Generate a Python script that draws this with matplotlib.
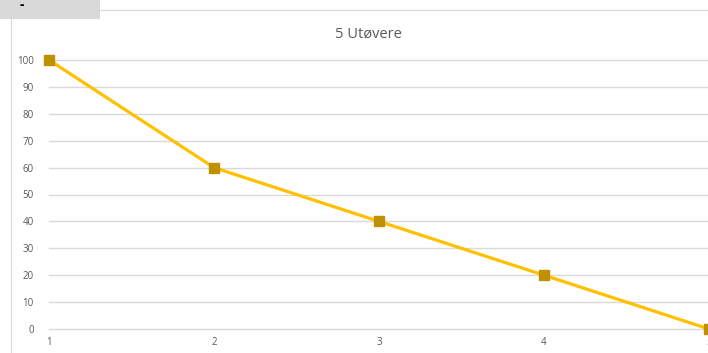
import matplotlib
matplotlib.use("Agg")
import matplotlib.pyplot as plt
from matplotlib.patches import Rectangle
from matplotlib.lines import Line2D

utovere = [1, 2, 3, 4, 5]
verdier = [100, 60, 40, 20, 0]
yticks = [0, 10, 20, 30, 40, 50, 60, 70, 80, 90, 100]
tittel = "5 Utøvere"

plt.rcParams['font.family'] = ['Open Sans', 'DejaVu Sans']

W, H = 708, 353
fig = plt.figure(figsize=(W / 100, H / 100), dpi=100)

# chart frame lines and the grey header box
fig.add_artist(Line2D([11 / W, 11 / W], [0, 1 - 10 / H], color='#d9d9d9', lw=0.9))
fig.add_artist(Line2D([100 / W, 1], [1 - 10 / H, 1 - 10 / H], color='#d9d9d9', lw=0.9))
fig.add_artist(Rectangle((0, 1 - 19 / H), 100 / W, 19 / H, color='#d9d9d9', lw=0))
fig.text(22 / W, 1 - 5 / H, "-", fontsize=10, color='black', ha='center', va='center',
         fontweight='bold')

ax = fig.add_axes([49 / W, 24 / H, 660 / W, 269 / H])
ax.plot(utovere, verdier, color='#FFC000', lw=2.3, marker='s', markersize=6.5,
        markerfacecolor='#BF9000', markeredgecolor='#BF9000', clip_on=False, zorder=3)

ax.set_xlim(1, 5)
ax.set_ylim(0, 100)
ax.set_xticks(utovere)
ax.set_yticks(yticks)
ax.grid(axis='y', color='#d9d9d9', lw=1)
for gl in ax.get_ygridlines():
    gl.set_clip_on(False)
ax.set_axisbelow(True)
for s in ax.spines.values():
    s.set_visible(False)
ax.tick_params(length=0, labelsize=7, labelcolor='#595959')
ax.tick_params(axis='y', pad=11)
ax.tick_params(axis='x', pad=6)

fig.text(368 / W, 1 - 34 / H, tittel, fontsize=10.5, color='#595959', ha='center', va='center')

fig.savefig("out.png", dpi=100)
